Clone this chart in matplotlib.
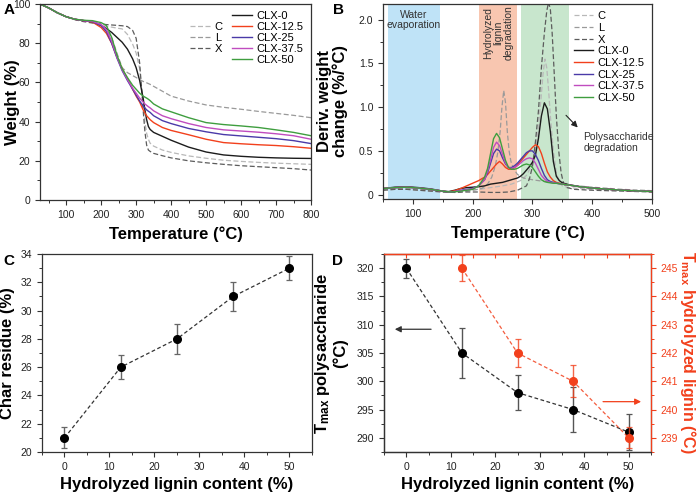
import numpy as np
import matplotlib.pyplot as plt
from matplotlib.lines import Line2D
from matplotlib.ticker import MultipleLocator, FuncFormatter

plt.rcParams['font.family'] = ['Liberation Sans', 'DejaVu Sans']
plt.rcParams['mathtext.fontset'] = 'custom'
plt.rcParams['mathtext.rm'] = 'Liberation Sans:bold'
plt.rcParams['mathtext.default'] = 'rm'
plt.rcParams['axes.linewidth'] = 0.9
plt.rcParams['axes.edgecolor'] = '#333333'
plt.rcParams['xtick.color'] = '#333333'
plt.rcParams['ytick.color'] = '#333333'
plt.rcParams['xtick.labelcolor'] = '#222222'
plt.rcParams['ytick.labelcolor'] = '#222222'

# ---------------- panel A: TGA ----------------
T_a = [25, 50, 75, 100, 125, 150, 175, 200, 215, 230, 245, 260, 275, 290, 300, 310,
       320, 325, 330, 335, 340, 350, 375, 400, 450, 500, 550, 600, 650, 700, 750, 800]
w_clx0 = [100, 98, 95.5, 93.5, 92.2, 91.5, 91, 89, 87.5, 85.5, 83, 80.5, 77, 72, 67.5, 61,
          52, 46, 41, 37.5, 36, 34.5, 32.5, 30.5, 27, 24.5, 23, 22.3, 21.8, 21.5, 21.3, 21.2]
w_clx12 = [100, 98, 95.5, 93.5, 92.2, 91.5, 90.8, 88, 85, 80, 73, 67, 62, 56.5, 53, 50,
           46, 44.5, 43, 42, 41, 39.5, 37, 35.5, 33.3, 31, 29.3, 28.7, 28.2, 27.8, 27.2, 26.4]
w_clx25 = [100, 98, 95.5, 93.5, 92.2, 91.5, 91, 89, 86, 80, 72.5, 66, 61, 56.5, 53.5, 50.5,
           48, 47, 46, 45.3, 44.7, 43, 40.5, 39, 36.5, 34.8, 33.4, 32.7, 32, 31.3, 30.3, 28.8]
w_clx37 = [100, 98, 95.5, 93.5, 92.2, 91.5, 91.2, 89.5, 87, 81, 73, 66.5, 61.5, 57, 54.5, 52,
           50, 49, 48.3, 47.6, 47, 45.5, 43, 41.5, 39, 37, 35.8, 35.2, 34.6, 33.8, 32.8, 31]
w_clx50 = [100, 98, 95.5, 93.5, 92.2, 91.7, 91.5, 90.5, 89, 83, 74, 67, 62.5, 58.5, 56.5, 54.5,
           53, 52.5, 52, 51.4, 50.7, 49, 46.5, 45, 42, 39.5, 38.5, 37.8, 37, 35.8, 34.5, 32.8]
w_C = [100, 98, 95.5, 93.5, 92.2, 91.5, 90.5, 89, 88.6, 88.2, 87.7, 87.3, 84.5, 79.5, 75, 67,
       50, 40, 34, 31, 29, 27.5, 25.5, 24.3, 22.5, 21.3, 20.3, 19.7, 19.2, 18.8, 18.5, 18.2]
w_L = [100, 98, 95.5, 93.5, 92.3, 91.7, 91, 89.5, 87, 83, 75, 67.5, 65, 63.5, 62.5, 61.5,
       60.5, 60.2, 59.8, 59.4, 59, 58, 55.5, 53, 50.5, 48.5, 47.3, 46.3, 45.2, 44.2, 43.2, 42]
w_X = [100, 98, 95.5, 93.5, 92, 91, 90.3, 89.8, 89.5, 89.3, 89.1, 88.9, 88.5, 86.5, 82.5, 70,
       46, 35, 28, 25.5, 24.8, 23.8, 22.6, 21.5, 20, 19, 18.2, 17.5, 17, 16.5, 16, 15.3]

# ---------------- panel B: DTG ----------------
T_b = [50, 70, 90, 110, 130, 150, 160, 170, 180, 190, 200, 210, 220, 225, 230, 235, 240, 245,
       250, 255, 260, 265, 270, 275, 280, 285, 290, 295, 300, 305, 310, 315, 320, 325, 330,
       335, 340, 345, 350, 360, 380, 400, 450, 500]
d_clx0 = [0.07, 0.085, 0.09, 0.08, 0.065, 0.04, 0.035, 0.05, 0.07, 0.08, 0.085, 0.09, 0.1, 0.11,
          0.12, 0.125, 0.13, 0.135, 0.14, 0.15, 0.16, 0.17, 0.18, 0.19, 0.21, 0.24, 0.28, 0.32,
          0.37, 0.45, 0.64, 0.9, 1.05, 0.98, 0.72, 0.38, 0.21, 0.16, 0.135, 0.115, 0.09, 0.075,
          0.05, 0.035]
d_clx12 = [0.07, 0.08, 0.085, 0.075, 0.06, 0.04, 0.03, 0.045, 0.07, 0.1, 0.13, 0.16, 0.2, 0.23,
           0.27, 0.31, 0.35, 0.38, 0.35, 0.31, 0.29, 0.29, 0.31, 0.34, 0.38, 0.42, 0.46, 0.5,
           0.54, 0.57, 0.55, 0.47, 0.36, 0.26, 0.2, 0.16, 0.14, 0.13, 0.12, 0.11, 0.09, 0.075,
           0.05, 0.035]
d_clx25 = [0.07, 0.08, 0.085, 0.075, 0.06, 0.04, 0.03, 0.035, 0.05, 0.06, 0.07, 0.1, 0.17, 0.25,
           0.36, 0.47, 0.52, 0.5, 0.42, 0.35, 0.31, 0.31, 0.33, 0.36, 0.4, 0.44, 0.48, 0.5,
           0.5, 0.46, 0.39, 0.3, 0.22, 0.17, 0.15, 0.14, 0.13, 0.125, 0.12, 0.11, 0.09, 0.075,
           0.05, 0.035]
d_clx37 = [0.07, 0.08, 0.085, 0.075, 0.06, 0.04, 0.03, 0.035, 0.045, 0.055, 0.065, 0.1, 0.17, 0.27,
           0.4, 0.54, 0.6, 0.56, 0.46, 0.36, 0.31, 0.3, 0.31, 0.33, 0.36, 0.39, 0.41, 0.42,
           0.41, 0.36, 0.29, 0.22, 0.18, 0.15, 0.14, 0.135, 0.13, 0.125, 0.12, 0.11, 0.09, 0.075,
           0.05, 0.035]
d_clx50 = [0.07, 0.08, 0.085, 0.075, 0.06, 0.04, 0.03, 0.032, 0.04, 0.05, 0.06, 0.1, 0.2, 0.3,
           0.47, 0.64, 0.7, 0.65, 0.52, 0.39, 0.31, 0.29, 0.29, 0.3, 0.32, 0.34, 0.35, 0.34,
           0.31, 0.26, 0.21, 0.17, 0.15, 0.14, 0.135, 0.13, 0.13, 0.125, 0.12, 0.11, 0.09, 0.075,
           0.05, 0.035]
T_bC = [50, 70, 90, 110, 130, 150, 170, 190, 210, 230, 250, 265, 280, 290, 300, 305, 310, 315,
        318, 321, 324, 327, 330, 335, 340, 345, 350, 360, 380, 400, 450, 500]
d_C = [0.05, 0.06, 0.06, 0.05, 0.04, 0.03, 0.03, 0.04, 0.06, 0.08, 0.1, 0.12, 0.16, 0.22, 0.35,
       0.5, 0.75, 1.15, 1.4, 1.55, 1.45, 1.2, 0.9, 0.5, 0.25, 0.14, 0.1, 0.08, 0.07, 0.06, 0.05, 0.04]
T_bL = [50, 70, 90, 110, 130, 150, 165, 180, 200, 215, 225, 232, 238, 242, 246, 249, 252, 255,
        258, 261, 264, 268, 275, 285, 300, 320, 340, 360, 400, 450, 500]
d_L = [0.06, 0.07, 0.07, 0.06, 0.05, 0.035, 0.03, 0.035, 0.05, 0.07, 0.12, 0.2, 0.33, 0.48, 0.72,
       1.0, 1.19, 1.05, 0.72, 0.5, 0.38, 0.3, 0.23, 0.19, 0.17, 0.15, 0.13, 0.11, 0.085, 0.06, 0.045]
T_bX = [50, 70, 90, 110, 130, 150, 170, 190, 210, 230, 245, 260, 275, 290, 295, 300, 305, 310,
        315, 320, 324, 327, 330, 333, 336, 340, 344, 348, 352, 358, 370, 400, 450, 500]
d_X = [0.05, 0.06, 0.06, 0.05, 0.04, 0.03, 0.025, 0.03, 0.03, 0.025, 0.025, 0.03, 0.05, 0.1, 0.18,
       0.32, 0.6, 0.95, 1.45, 1.85, 2.1, 2.2, 2.12, 1.85, 1.45, 0.9, 0.5, 0.25, 0.13, 0.08, 0.06,
       0.05, 0.04, 0.03]

# ---------------- panels C and D ----------------
lignin = [0, 12.5, 25, 37.5, 50]
char = [21, 26, 28, 31, 33]
char_err = [0.75, 0.85, 1.05, 1.0, 0.85]
tmax_poly = [320, 305, 298, 295, 291]
tmax_poly_err = [1.7, 4.5, 3.1, 4.0, 3.2]
lignin_hl = [12.5, 25, 37.5, 50]
tmax_hl = [245, 242, 241, 239]
tmax_hl_err = [0.46, 0.5, 0.56, 0.37]

names = ['CLX-0', 'CLX-12.5', 'CLX-25', 'CLX-37.5', 'CLX-50']
cols = ['#1c1c1c', '#f2401c', '#4a3aa8', '#c04cbf', '#3f9e3f']
ref_names = ['C', 'L', 'X']
ref_cols = ['#b8b8b8', '#9a9a9a', '#5c5c5c']
RED = '#f2401c'

tick_fs = 7.5
lab_fs = 12

fig = plt.figure(figsize=(7.0, 4.94), dpi=100)
ax_a = fig.add_axes([0.0571, 0.5951, 0.3872, 0.3968])
ax_b = fig.add_axes([0.5471, 0.5972, 0.3843, 0.3947])
ax_c = fig.add_axes([0.06, 0.085, 0.3857, 0.4008])
ax_d = fig.add_axes([0.5486, 0.085, 0.3814, 0.4008])

# ---- A ----
for w, c in zip([w_C, w_L, w_X], ref_cols):
    ax_a.plot(T_a, w, color=c, lw=0.9, dashes=(4, 2))
for w, c in zip([w_clx0, w_clx12, w_clx25, w_clx37, w_clx50], cols):
    ax_a.plot(T_a, w, color=c, lw=1.0)
ax_a.set_xlim(25, 800)
ax_a.set_ylim(0, 100)
ax_a.xaxis.set_major_locator(MultipleLocator(100))
ax_a.xaxis.set_minor_locator(MultipleLocator(50))
ax_a.yaxis.set_major_locator(MultipleLocator(20))
ax_a.yaxis.set_minor_locator(MultipleLocator(10))
ax_a.set_xlabel('Temperature (°C)', fontsize=lab_fs, fontweight='bold')
ax_a.set_ylabel('Weight (%)', fontsize=lab_fs, fontweight='bold')
ax_a.xaxis.set_label_coords(0.5, -0.135)
ax_a.yaxis.set_label_coords(-0.075, 0.5)

blank = Line2D([], [], alpha=0)
h = [blank] + [Line2D([], [], color=c, lw=0.9, dashes=(4, 2)) for c in ref_cols] + [blank]
h += [Line2D([], [], color=c, lw=1.0) for c in cols]
lab = [' '] + ref_names + [' '] + names
ax_a.legend(h, lab, ncol=2, loc='upper right', bbox_to_anchor=(1.0, 1.0), frameon=False,
            fontsize=8, handlelength=1.8, handletextpad=0.45, columnspacing=0.8,
            labelspacing=0.08, borderaxespad=0.25)

# ---- B ----
ax_b.axvspan(58, 146, color='#bfe3f7', lw=0)
ax_b.axvspan(210, 274, color='#f8c6b0', lw=0)
ax_b.axvspan(281, 361, color='#c8e6cd', lw=0)
for tt, d, c, n in zip([T_bC, T_bL, T_bX], [d_C, d_L, d_X], ref_cols, ref_names):
    ax_b.plot(tt, d, color=c, lw=0.9, dashes=(4, 2), label=n)
for d, c, n in zip([d_clx0, d_clx12, d_clx25, d_clx37, d_clx50], cols, names):
    ax_b.plot(T_b, d, color=c, lw=1.0, label=n)
ax_b.set_xlim(50, 500)
ax_b.set_ylim(-0.05, 2.18)
ax_b.xaxis.set_major_locator(MultipleLocator(100))
ax_b.xaxis.set_minor_locator(MultipleLocator(50))
ax_b.yaxis.set_major_locator(MultipleLocator(0.5))
ax_b.yaxis.set_minor_locator(MultipleLocator(0.25))
ax_b.yaxis.set_major_formatter(FuncFormatter(lambda v, p: '0' if abs(v) < 1e-9 else f'{v:.1f}'))
ax_b.set_xlabel('Temperature (°C)', fontsize=lab_fs, fontweight='bold')
ax_b.set_ylabel('Deriv. weight\nchange (%/°C)', fontsize=lab_fs, fontweight='bold',
                linespacing=1.0)
ax_b.xaxis.set_label_coords(0.5, -0.135)
ax_b.yaxis.set_label_coords(-0.13, 0.5)
ax_b.legend(loc='upper right', bbox_to_anchor=(1.0, 1.0), frameon=False, fontsize=8,
            handlelength=1.7, handletextpad=0.45, labelspacing=0.15, borderaxespad=0.25)
ax_b.text(102, 2.0, 'Water\nevaporation', fontsize=7.5, ha='center', va='center',
          color='#333333', linespacing=1.0)
ax_b.text(243, 1.85, 'Hydrolyzed\nlignin\ndegradation', fontsize=7.5, ha='center', va='center',
          rotation=90, color='#333333', linespacing=1.0)
ax_b.annotate('', xy=(379, 0.745), xytext=(353, 0.93),
              arrowprops=dict(arrowstyle='-|>', color='#222222', lw=0.8, mutation_scale=9))
ax_b.text(385, 0.6, 'Polysaccharide\ndegradation', fontsize=7.5, ha='left', va='center',
          color='#333333', linespacing=1.1)

# ---- C ----
ax_c.plot(lignin, char, color='#333333', lw=0.9, dashes=(3, 2))
ax_c.errorbar(lignin, char, yerr=char_err, fmt='none', ecolor='#666666', elinewidth=1.0,
              capsize=2.5, capthick=0.9)
ax_c.plot(lignin, char, 'o', color='black', ms=5.5)
ax_c.set_xlim(-5, 55)
ax_c.set_ylim(20, 34)
ax_c.xaxis.set_major_locator(MultipleLocator(10))
ax_c.xaxis.set_minor_locator(MultipleLocator(5))
ax_c.yaxis.set_major_locator(MultipleLocator(2))
ax_c.yaxis.set_minor_locator(MultipleLocator(1))
ax_c.set_xlabel('Hydrolyzed lignin content (%)', fontsize=lab_fs, fontweight='bold')
ax_c.set_ylabel('Char residue (%)', fontsize=lab_fs, fontweight='bold')
ax_c.xaxis.set_label_coords(0.5, -0.125)
ax_c.yaxis.set_label_coords(-0.1, 0.5)

# ---- D ----
ax_d2 = ax_d.twinx()
ax_d.plot(lignin, tmax_poly, color='#333333', lw=0.9, dashes=(3, 2))
ax_d.errorbar(lignin, tmax_poly, yerr=tmax_poly_err, fmt='none', ecolor='#555555',
              elinewidth=1.0, capsize=2.5, capthick=0.9)
ax_d.plot(lignin, tmax_poly, 'o', color='black', ms=5.5, zorder=5)
ax_d2.plot(lignin_hl, tmax_hl, color=RED, lw=0.9, dashes=(3, 2), alpha=0.85)
ax_d2.errorbar(lignin_hl, tmax_hl, yerr=tmax_hl_err, fmt='none', ecolor=RED, elinewidth=1.0,
               capsize=2.5, capthick=0.9, alpha=0.8)
ax_d2.plot(lignin_hl, tmax_hl, 'o', color=RED, ms=5.5)
ax_d.set_xlim(-5, 55)
ax_d.set_ylim(287.5, 322.5)
ax_d2.set_ylim(238.5, 245.5)
ax_d.xaxis.set_major_locator(MultipleLocator(10))
ax_d.xaxis.set_minor_locator(MultipleLocator(5))
ax_d.yaxis.set_major_locator(MultipleLocator(5))
ax_d.yaxis.set_minor_locator(MultipleLocator(2.5))
ax_d2.yaxis.set_major_locator(MultipleLocator(1))
ax_d2.yaxis.set_minor_locator(MultipleLocator(0.5))
ax_d2.spines['right'].set_color(RED)
ax_d2.spines['top'].set_color(RED)
ax_d2.tick_params(axis='y', which='both', colors=RED, labelcolor=RED, labelsize=tick_fs)
top = ax_d.secondary_xaxis('top')
top.xaxis.set_major_locator(MultipleLocator(5))
top.tick_params(direction='in', colors=RED, labeltop=False, length=3)
top.spines['top'].set_color(RED)
ax_d.set_xlabel('Hydrolyzed lignin content (%)', fontsize=lab_fs, fontweight='bold')
ax_d.set_ylabel('T$_{max}$ polysaccharide\n(°C)', fontsize=lab_fs, fontweight='bold',
                linespacing=1.0)
ax_d2.set_ylabel('T$_{max}$ hydrolyzed lignin (°C)', fontsize=11.5, fontweight='bold',
                 color=RED, rotation=270, va='bottom')
ax_d.xaxis.set_label_coords(0.5, -0.125)
ax_d.yaxis.set_label_coords(-0.135, 0.5)
ax_d2.yaxis.set_label_coords(1.1, 0.5)
ax_d.annotate('', xy=(-3.2, 309.2), xytext=(6.2, 309.2),
              arrowprops=dict(arrowstyle='-|>', color='#333333', lw=0.9, mutation_scale=9))
ax_d.annotate('', xy=(53.4, 296.4), xytext=(43.6, 296.4),
              arrowprops=dict(arrowstyle='-|>', color=RED, lw=0.9, mutation_scale=9))

for ax in [ax_a, ax_b, ax_c, ax_d]:
    ax.tick_params(which='major', length=3.5, width=0.8, labelsize=tick_fs)
    ax.tick_params(which='minor', length=2, width=0.7)
ax_d2.tick_params(which='major', length=3.5, width=0.8)
ax_d2.tick_params(which='minor', length=2, width=0.7)

for x, y, s in [(4, 10, 'A'), (333, 10, 'B'), (3, 261, 'C'), (332, 261, 'D')]:
    fig.text(x / 700, 1 - y / 494, s, fontsize=11, fontweight='bold', va='center', ha='left')

fig.savefig('out.png', dpi=100)
